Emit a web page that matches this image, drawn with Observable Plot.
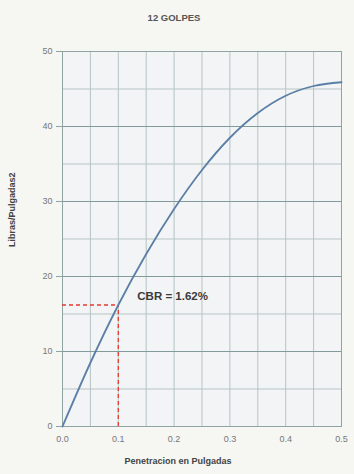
<!DOCTYPE html>
<html>
<head>
<meta charset="utf-8">
<script src="https://cdn.jsdelivr.net/npm/d3@7"></script>
<script src="https://cdn.jsdelivr.net/npm/@observablehq/plot@0.6"></script>
<style>
  html, body { margin: 0; padding: 0; background: #f6f6f3; }
</style>
</head>
<body>
<div id="chart"></div>
<script>
const title = "12 GOLPES";
const xLabel = "Penetracion en Pulgadas";
const yLabel = "Libras/Pulgadas2";
const penetracion = [0, 0.05, 0.1, 0.15, 0.2, 0.25, 0.3, 0.35, 0.4, 0.45, 0.5];
const carga = [0, 8.5, 16.2, 23.0, 29.0, 34.2, 38.5, 41.8, 44.1, 45.4, 45.9];
const cbrPen = 0.1;
const cbrCarga = 16.2;
const cbrLabel = "CBR = 1.62%";
const xTicks = [0, 0.1, 0.2, 0.3, 0.4, 0.5];
const yTicks = [0, 10, 20, 30, 40, 50];

const data = penetracion.map((p, i) => ({p, c: carga[i]}));

const chart = Plot.plot({
  width: 354,
  height: 474,
  marginTop: 51,
  marginBottom: 48,
  marginLeft: 62,
  marginRight: 13,
  style: {fontFamily: "'Liberation Sans', Arial, sans-serif", background: "#f6f6f3", color: "#666"},
  x: {domain: [0, 0.5]},
  y: {domain: [0, 50]},
  marks: [
    Plot.frame({fill: "#f2f4f5", stroke: "none"}),
    Plot.gridX({ticks: 10, stroke: "#b6c3c3", strokeOpacity: 1, strokeWidth: 1}),
    Plot.gridY({ticks: 10, stroke: "#b8c5c5", strokeOpacity: 1, strokeWidth: 1}),
    Plot.gridY(yTicks, {stroke: "#809b99", strokeOpacity: 1, strokeWidth: 1.2}),
    Plot.frame({stroke: "#8fa3a2", strokeWidth: 1}),
    Plot.axisX({ticks: xTicks, tickFormat: d => d.toFixed(1), tickSize: 0, tickPadding: 9, fontSize: 9, label: null, fill: "#777"}),
    Plot.axisY({ticks: yTicks, tickSize: 6, tickPadding: 4, fontSize: 9, label: null, fill: "#777", stroke: "#8fa3a2"}),
    Plot.ruleY([cbrCarga], {x1: 0, x2: cbrPen, stroke: "#e23a2e", strokeWidth: 1.3, strokeDasharray: "4,3"}),
    Plot.ruleX([cbrPen], {y1: 0, y2: cbrCarga, stroke: "#e23a2e", strokeWidth: 1.3, strokeDasharray: "4,3"}),
    Plot.line(data, {x: "p", y: "c", curve: "monotone-x", stroke: "#5b7fa6", strokeWidth: 1.8}),
    Plot.text([cbrLabel], {x: () => cbrPen, y: () => cbrCarga, text: d => d, textAnchor: "start", dx: 19, dy: -9, fontSize: 11.5, fontWeight: "bold", fill: "#3a3a3a"}),
    Plot.text([title], {frameAnchor: "top", text: d => d, dx: -28, dy: -37, fontSize: 9.5, fontWeight: "bold", fill: "#555"}),
    Plot.text([xLabel], {frameAnchor: "bottom", text: d => d, dx: -24, dy: 37, fontSize: 9, fontWeight: "bold", fill: "#444"}),
    Plot.text([yLabel], {frameAnchor: "left", text: d => d, rotate: -90, dx: -50, dy: 8, fontSize: 9, fontWeight: "bold", fill: "#444"})
  ]
});
document.getElementById("chart").appendChild(chart);
</script>
</body>
</html>
